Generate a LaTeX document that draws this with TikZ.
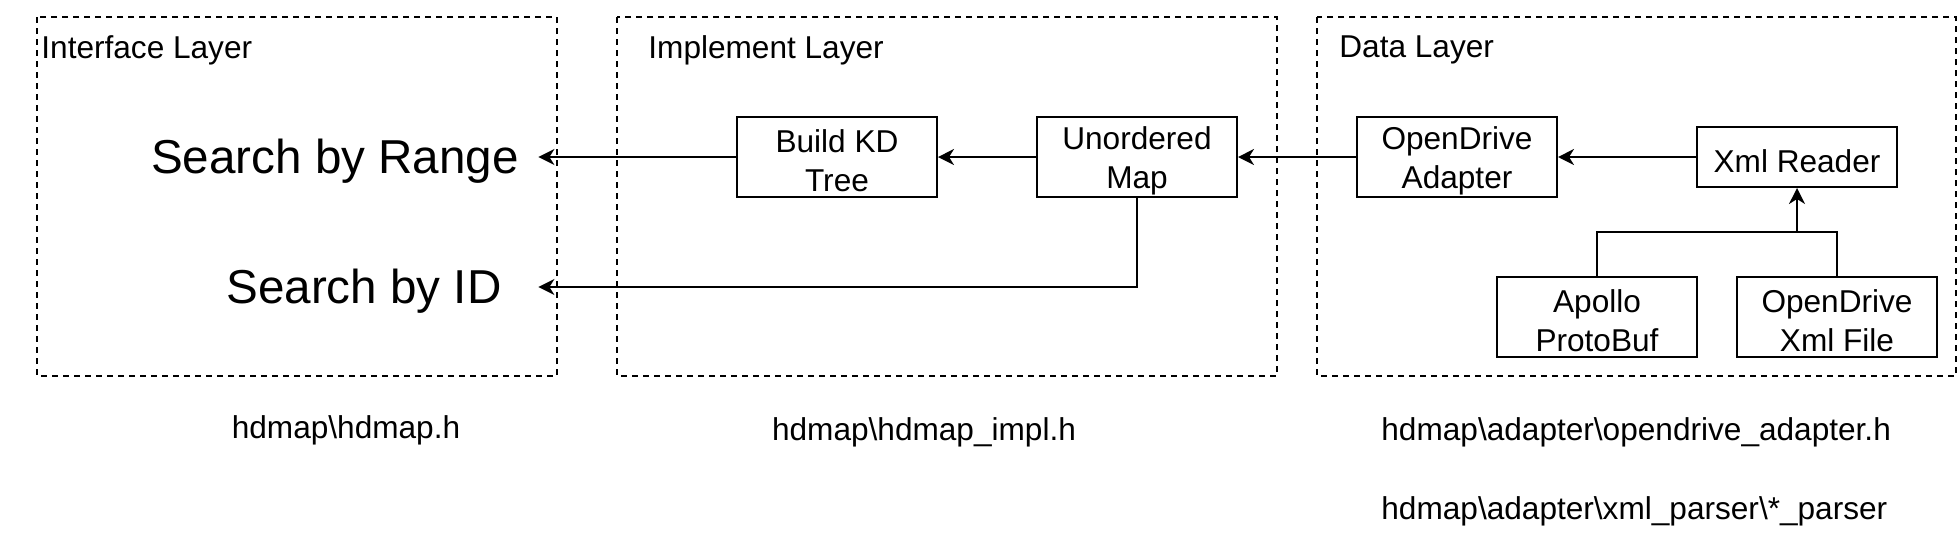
\documentclass[tikz,border=0pt]{standalone}
\usepackage{fontspec}
\setmainfont{Liberation Sans}
\usetikzlibrary{arrows.meta}

\begin{document}
\begin{tikzpicture}[x=0.5pt, y=-0.5pt,
  txt/.style={font=\fontsize{15.8}{19.5}\selectfont, inner sep=0pt},
  big/.style={font=\fontsize{23.8}{28}\selectfont, inner sep=0pt, execute at begin node={\rule{0pt}{21.5pt}}},
  box/.style={txt, draw, line width=1pt, align=center, minimum width=100pt, minimum height=40pt},
  twobox/.style={box, execute at begin node={\rule{0pt}{35pt}}},
  onebox/.style={box, minimum height=30pt, execute at begin node={\rule{0pt}{15.5pt}}},
  layer/.style={draw, line width=0.85pt, dash pattern=on 3pt off 2.5pt},
  line/.style={line width=1pt},
  arr/.style={line, -{Stealth[length=8pt, width=8pt, inset=2.5pt]}}
]
\useasboundingbox (0,0) rectangle (1958,538);
% layer frames
\draw[layer] (37,17) rectangle (557,376);
\draw[layer] (617,17) rectangle (1277,376);
\draw[layer] (1317,17) rectangle (1956,376);
\node[txt, anchor=west] (ilbl) at (41,50) {Interface Layer};
\node[txt, anchor=west] (mlbl) at (648,50) {Implement Layer};
\node[txt, anchor=west] (dlbl) at (1339,50) {Data Layer};
% interface
\node[big, minimum width=203pt] (range) at (335,157) {Search by Range};
\node[big, minimum width=174pt] (byid)  at (364,287) {Search by ID};
% implement
\node[twobox] (build) at (837,157)  {Build KD\\Tree};
\node[twobox] (umap)  at (1137,157) {Unordered\\Map};
% data
\node[twobox] (adapter) at (1457,157) {OpenDrive\\Adapter};
\node[onebox] (xmlr) at (1797,157) {Xml Reader};
\node[twobox] (proto) at (1597,317) {Apollo\\ProtoBuf};
\node[twobox] (file)  at (1837,317) {OpenDrive\\Xml File};
\coordinate (join) at (1797,232);
% source files
\node[txt] (fiface) at (346,430) {hdmap\textbackslash hdmap.h};
\node[txt] (fimpl)  at (924,432) {hdmap\textbackslash hdmap\_impl.h};
\node[txt, anchor=west] (fadapt) at (1381,432) {hdmap\textbackslash adapter\textbackslash opendrive\_adapter.h};
\node[txt, anchor=west] (fparse) at (1381,511) {hdmap\textbackslash adapter\textbackslash xml\_parser\textbackslash *\_parser};
% connectors
\draw[arr] (build) -- (range);
\draw[arr] (umap) -- (build);
\draw[arr] (adapter) -- (umap);
\draw[arr] (xmlr) -- (adapter);
\draw[arr] (umap.south) |- (byid.east);
\draw[line] (proto.north) |- (join) -| (file.north);
\draw[arr] (join) -- (xmlr.south);
\end{tikzpicture}
\end{document}
